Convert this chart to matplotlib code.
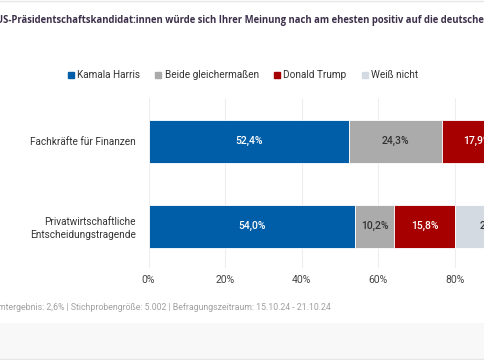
import matplotlib.pyplot as plt
from matplotlib.patches import Rectangle

plt.rcParams["font.family"] = ["Roboto", "DejaVu Sans"]

categories = ["Fachkräfte für Finanzen", "Privatwirtschaftliche\nEntscheidungstragende"]
series_names = ["Kamala Harris", "Beide gleichermaßen", "Donald Trump", "Weiß nicht"]
values = {
    "Kamala Harris": [52.4, 54.0],
    "Beide gleichermaßen": [24.3, 10.2],
    "Donald Trump": [17.9, 15.8],
    "Weiß nicht": [5.4, 20.0],
}
colors = ["#005EA8", "#ABABAB", "#A60000", "#D3DAE2"]
label_colors = ["white", "#333333", "white", "#333333"]
ticks = [0, 20, 40, 60, 80, 100]

title = "US-Präsidentschaftskandidat:innen würde sich Ihrer Meinung nach am ehesten positiv auf die deutsche Wirtschaft auswirken?"
footer = "mtergebnis: 2,6% | Stichprobengröße: 5.002 | Befragungszeitraum: 15.10.24 - 21.10.24"

W, H = 485, 360
fig = plt.figure(figsize=(W / 100, H / 100), dpi=100)

# axes runs off the right edge, as in the cropped original
ax = fig.add_axes([148.5 / W, 1 - 268 / H, 383 / W, 170 / H])

left = [0.0] * len(categories)
for name, color, lc in zip(series_names, colors, label_colors):
    vals = values[name]
    bars = ax.barh(range(len(categories)), vals, left=left, height=0.5,
                   color=color, edgecolor="white", linewidth=0.6, zorder=2)
    for b, v in zip(bars, vals):
        ax.text(b.get_x() + b.get_width() / 2, b.get_y() + b.get_height() / 2,
                f"{v:.1f}%".replace(".", ","), ha="center", va="center",
                color=lc, fontsize=7.5, fontweight="medium", zorder=3)
    left = [l + v for l, v in zip(left, vals)]

ax.set_xlim(0, 100)
ax.set_ylim(1.49, -0.51)
ax.set_xticks(ticks)
ax.set_xticklabels([f"{t}%" for t in ticks], fontsize=7.5, color="#444444")
ax.set_yticks(range(len(categories)))
ax.set_yticklabels(categories, fontsize=7.2, color="#333333", linespacing=1.3)
ax.tick_params(axis="x", length=0, pad=5)
ax.tick_params(axis="y", length=0, pad=9)
ax.grid(axis="x", color="#EEEEEE", linewidth=0.8, zorder=0)
for s in ax.spines.values():
    s.set_visible(False)

# legend with small square markers
handles = [plt.Line2D([], [], marker="s", linestyle="", markersize=4,
                      color=c) for c in colors]
fig.legend(handles, series_names, loc="center", bbox_to_anchor=(0.5, 1 - 75 / H),
           ncol=4, frameon=False, fontsize=7.2, handletextpad=0.25,
           handlelength=0.8, columnspacing=1.4, labelcolor="#333333")

fig.text(-4 / W, 1 - 20 / H, title, ha="left", va="center", fontsize=6.85,
         fontweight="bold", color="#3B2F4A", family=["Open Sans", "DejaVu Sans"])
fig.text(-2 / W, 1 - 307 / H, footer, ha="left", va="center", fontsize=6.3,
         color="#A0A0A0")

# top rule and grey footer band
fig.add_artist(plt.Line2D([0, 1], [1 - 1 / H, 1 - 1 / H], color="#E6E6E6", linewidth=1))
fig.add_artist(Rectangle((0, 0), 1, 37 / H, transform=fig.transFigure,
                         facecolor="#F8F8F8", edgecolor="none", zorder=-1))
fig.add_artist(plt.Line2D([0, 1], [1.5 / H, 1.5 / H], color="#E6E6E6", linewidth=1))

fig.savefig("out.png", dpi=100)
